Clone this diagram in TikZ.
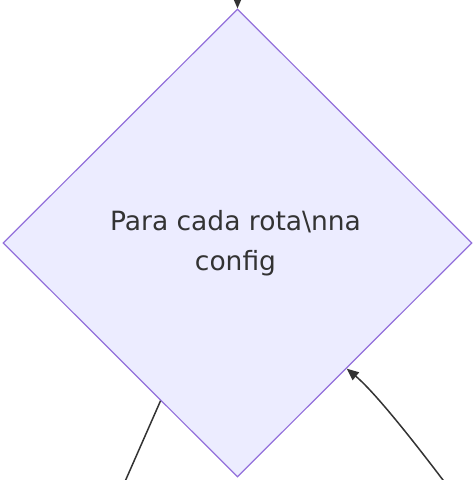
\documentclass[tikz,border=0pt]{standalone}
\usepackage{fontspec}
\setmainfont{DejaVu Sans}
\usetikzlibrary{arrows.meta,shapes.geometric}
\definecolor{nodefill}{HTML}{ECECFF}
\definecolor{nodeline}{HTML}{9370DB}
\definecolor{linkgray}{HTML}{333333}

\begin{document}
\begin{tikzpicture}[x=1pt, y=1pt,
    decision/.style={diamond, aspect=1, inner sep=0pt, minimum width=469pt, minimum height=468pt,
      fill=nodefill, draw=nodeline, line width=1.2pt},
    link/.style={draw=linkgray, line width=1.5pt},
    tip/.style={-{Triangle[length=12pt,width=10pt]}}]
  \useasboundingbox (0,0) rectangle (473,480);
  \clip (0,0) rectangle (473,480);
  \node[decision] (loop) at (237.5,237) {};
  \node[text=linkgray, font=\fontsize{26.5}{40}\selectfont, align=center] (label)
    at ([xshift=-2pt]loop.center) {Para cada rota\textbackslash nna\\config};
  \coordinate (in) at (237.5,510);
  \coordinate (out) at (116,-22);
  \coordinate (back) at (452,-12);
  \draw[link,tip] (in) -- (loop.north);
  \draw[link] (loop.-116) -- (out);
  \draw[link,tip] (back) .. controls (422,28) and (377,86) .. (loop.-49);
\end{tikzpicture}
\end{document}
